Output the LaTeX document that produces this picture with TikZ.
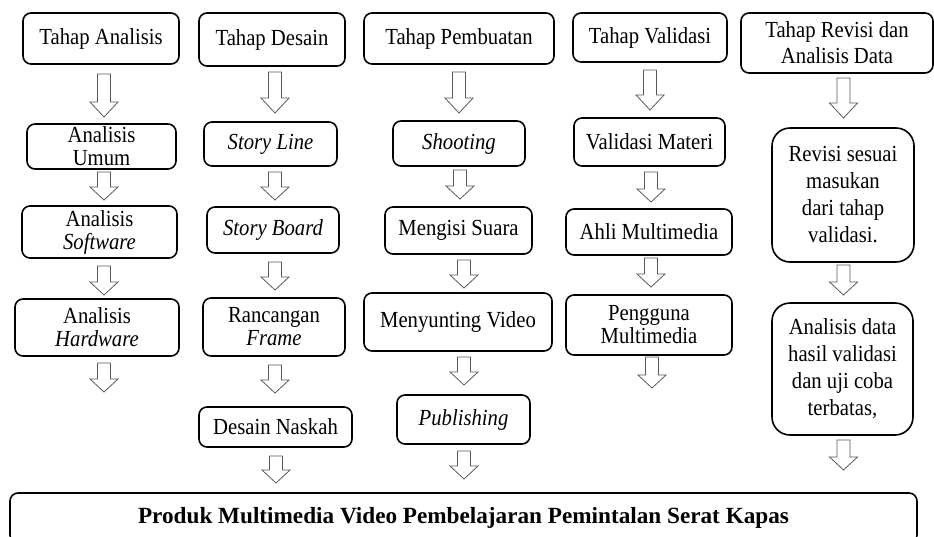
\documentclass[tikz,border=0pt]{standalone}
\usepackage{fontspec}
\setmainfont{Liberation Serif}[FakeStretch=0.9]
\newfontfamily\plainserif{Liberation Serif}
\tikzset{
  box/.style={draw, line width=1.6pt, rounded corners=8pt, align=center, inner sep=0pt,
              font=\fontsize{23}{23}\selectfont},
  bigbox/.style={rounded corners=18pt, font=\fontsize{23}{27}\selectfont},
  barrow/.style={draw=black!65, line width=0.8pt, fill=white, line join=miter}
}
\newcommand\bx[7][]{%
  \node[box, #1, minimum width={#5pt-#3pt}, minimum height={#6pt-#4pt}] (#2)
    at ({(#3+#5)/2},{(#4+#6)/2}) {#7};}
\newcommand\blockarr[4]{%
  \draw[barrow] ({#1-6.5},#2) -- ({#1+6.5},#2) -- ({#1+6.5},{#3-#4}) -- ({#1+14},{#3-#4})
    -- (#1,#3) -- ({#1-14},{#3-#4}) -- ({#1-6.5},{#3-#4}) -- cycle;}
\begin{document}
\begin{tikzpicture}[x=1pt,y=-1pt]
\useasboundingbox (0,0) rectangle (934,536);
\clip (0,0) rectangle (934,536);
% column 1
\bx{A1}{23}{13}{179}{64}{Tahap Analisis}
\bx{A2}{27}{124}{176}{169}{Analisis\\Umum}
\bx{A3}{22}{206}{177}{258}{Analisis\\\textit{Software}}
\bx{A4}{15}{299}{179}{356}{Analisis\\\textit{Hardware}}
\blockarr{104}{74}{117}{15}
\blockarr{104}{172}{200}{13}
\blockarr{104}{266}{295}{13}
\blockarr{104}{363}{392}{13}
% column 2
\bx{B1}{199}{13}{345}{66}{Tahap Desain}
\bx{B2}{204}{122}{337}{166}{\textit{Story Line}}
\bx{B3}{207}{207}{339}{253}{\textit{Story Board}}
\bx{B4}{203}{298}{345}{356}{Rancangan\\\textit{Frame}}
\bx{B5}{199}{407}{352}{447}{Desain Naskah}
\blockarr{275}{72}{113}{15}
\blockarr{275}{172}{200}{13}
\blockarr{275}{262}{290}{13}
\blockarr{275}{365}{393}{13}
\blockarr{276}{456}{483}{13}
% column 3
\bx{C1}{364}{13}{554}{64}{Tahap Pembuatan}
\bx{C2}{393}{121}{525}{166}{\textit{Shooting}}
\bx{C3}{385}{207}{532}{254}{Mengisi Suara}
\bx{C4}{364}{293}{552}{351}{Menyunting Video}
\bx{C5}{397}{395}{530}{444}{\textit{Publishing}}
\blockarr{459}{72}{113}{15}
\blockarr{460}{170}{199}{13}
\blockarr{464}{260}{288}{13}
\blockarr{464}{357}{385}{13}
\blockarr{464}{451}{479}{13}
% column 4
\bx{D1}{573}{13}{727}{62}{Tahap Validasi}
\bx{D2}{574}{118}{725}{166}{Validasi Materi}
\bx{D3}{566}{209}{732}{255}{Ahli Multimedia}
\bx{D4}{566}{295}{732}{355}{Pengguna\\Multimedia}
\blockarr{650}{70}{110}{15}
\blockarr{651}{172}{202}{13}
\blockarr{651}{258}{287}{13}
\blockarr{652}{357}{388}{13}
% column 5
\bx[font=\fontsize{23}{26}\selectfont]{E1}{741}{13}{933}{73}{Tahap Revisi dan\\Analisis Data}
\bx[bigbox]{E2}{772}{128}{914}{262}{Revisi sesuai\\masukan\\dari tahap\\validasi.}
\bx[bigbox]{E3}{772}{303}{913}{435}{Analisis data\\hasil validasi\\dan uji coba\\terbatas,}
\blockarr{843.5}{78}{118}{15}
\blockarr{843.5}{265}{295}{13}
\blockarr{843.5}{440}{470}{13}
% bottom
\node[box, font=\plainserif\fontsize{23.2}{23}\selectfont\bfseries, minimum width=907pt, minimum height=50pt]
  (F) at (463.5,518) {Produk Multimedia Video Pembelajaran Pemintalan Serat Kapas};
\end{tikzpicture}
\end{document}
